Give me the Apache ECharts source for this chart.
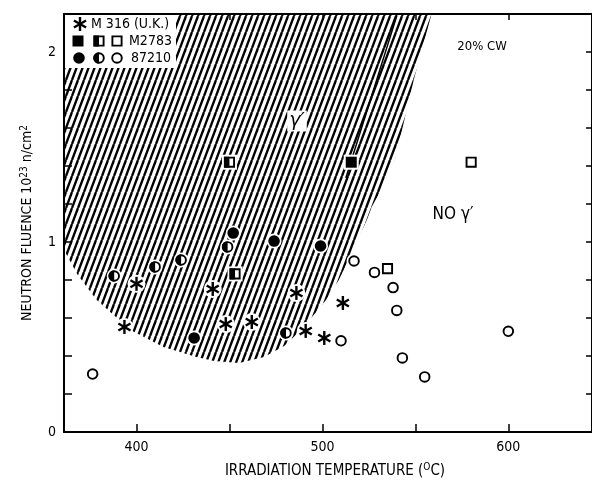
<!DOCTYPE html>
<html><head><meta charset="utf-8">
<script src="https://cdn.jsdelivr.net/npm/echarts@6/dist/echarts.min.js"></script>
<style>html,body{margin:0;padding:0;background:#fff}#c{width:592px;height:485px}</style>
</head><body><div id="c"></div>
<script>
const FONT = '"DejaVu Sans Condensed","Liberation Sans Narrow","DejaVu Sans",sans-serif';

// ---- axis ticks ----
const xTickLabels = [400, 500, 600];
const xTicks = [400, 450, 500, 550, 600];
const yTickLabels = [0, 1, 2];
const yTicks = [0, 0.2, 0.4, 0.6, 0.8, 1.0, 1.2, 1.4, 1.6, 1.8, 2.0, 2.2];

// ---- M316 (U.K.) asterisks ----
const m316Temp    = [393.5, 400, 441, 448, 462, 486, 491, 501, 511];
const m316Fluence = [0.553, 0.78, 0.753, 0.568, 0.579, 0.732, 0.532, 0.495, 0.679];

// ---- M2783 squares ----
const m2783FullTemp = [515.5];
const m2783FullFluence = [1.42];
const m2783HalfTemp = [450, 453];
const m2783HalfFluence = [1.42, 0.832];
const m2783OpenTemp = [535, 580];
const m2783OpenFluence = [0.86, 1.42];

// ---- 87210 circles ----
const h87FullTemp = [452, 474, 499, 431];
const h87FullFluence = [1.047, 1.005, 0.979, 0.495];
const h87HalfTemp = [388, 410, 424, 449, 480.4];
const h87HalfFluence = [0.821, 0.869, 0.905, 0.974, 0.521];
const h87OpenTemp = [376.4, 517, 528, 538, 540, 543, 555, 510, 600];
const h87OpenFluence = [0.305, 0.90, 0.84, 0.76, 0.64, 0.39, 0.29, 0.48, 0.53];

// ---- gamma-prime region boundary (hatched) ----
const hatchTemp = [361, 558.7, 549.1, 539.4, 533.0, 526.5, 523.9, 515.8, 508.8, 501.9, 494.4, 487.4, 479.4, 468.6, 455.2, 441.8, 432.2, 414.5, 396.8, 378.6, 368.4, 361];
const hatchFluence = [2.2, 2.2, 1.853, 1.447, 1.300, 1.184, 1.116, 0.942, 0.800, 0.695, 0.605, 0.526, 0.453, 0.395, 0.363, 0.374, 0.395, 0.447, 0.537, 0.695, 0.826, 0.958];
const edgeTemp = [540, 512.6];
const edgeFluence = [2.19, 1.337];

// hatch pattern: "/" lines, horizontal period 6px, slope 16/6
function makePattern() {
  const W = 6, H = 16;
  const c = document.createElement('canvas');
  c.width = W; c.height = H;
  const g = c.getContext('2d');
  g.strokeStyle = '#000';
  g.lineWidth = 2.3;
  for (let x0 = -W; x0 <= W; x0 += W) {
    g.beginPath();
    g.moveTo(x0, H);
    g.lineTo(x0 + W, 0);
    g.stroke();
  }
  return { image: c, repeat: 'repeat' };
}
const pattern = makePattern();

function asteriskChildren(x, y, r, lw) {
  const ch = [{ type: 'circle', shape: { cx: x, cy: y, r: r + 2 }, style: { fill: '#fff' } }];
  [90, 30, 150].forEach(a => {
    const rad = a * Math.PI / 180;
    const dx = Math.cos(rad) * r, dy = Math.sin(rad) * r;
    ch.push({ type: 'line', shape: { x1: x - dx, y1: y - dy, x2: x + dx, y2: y + dy },
      style: { stroke: '#000', lineWidth: lw } });
  });
  return ch;
}

function markerChildren(x, y, shape, fill) {
  const ch = [];
  if (shape === 'asterisk') return asteriskChildren(x, y, 7, 2.4);
  if (shape === 'circle') {
    ch.push({ type: 'circle', shape: { cx: x, cy: y, r: 7.5 }, style: { fill: '#fff' } });
    if (fill === 'full') {
      ch.push({ type: 'circle', shape: { cx: x, cy: y, r: 5.8 }, style: { fill: '#000' } });
    } else {
      ch.push({ type: 'circle', shape: { cx: x, cy: y, r: 4.8 }, style: { fill: '#fff', stroke: '#000', lineWidth: 1.9 } });
      if (fill === 'half') {
        ch.push({ type: 'sector', shape: { cx: x, cy: y, r: 5.75, r0: 0, startAngle: Math.PI / 2, endAngle: Math.PI * 1.5, clockwise: true }, style: { fill: '#000' } });
      }
    }
  } else {
    ch.push({ type: 'rect', shape: { x: x - 7.5, y: y - 7.5, width: 15, height: 15 }, style: { fill: '#fff' } });
    if (fill === 'full') {
      ch.push({ type: 'rect', shape: { x: x - 5.5, y: y - 5.5, width: 11, height: 11 }, style: { fill: '#000' } });
    } else {
      ch.push({ type: 'rect', shape: { x: x - 4.6, y: y - 4.6, width: 9.2, height: 9.2 }, style: { fill: '#fff', stroke: '#000', lineWidth: 1.9 } });
      if (fill === 'half') {
        ch.push({ type: 'rect', shape: { x: x - 5.5, y: y - 5.5, width: 5.5, height: 11 }, style: { fill: '#000' } });
      }
    }
  }
  return ch;
}

function markerSeries(name, temps, fls, shape, fill) {
  return {
    type: 'custom', name: name, coordinateSystem: 'cartesian2d',
    data: temps.map((t, i) => [t, fls[i]]),
    encode: { x: 0, y: 1 },
    z: 5,
    renderItem: function (params, api) {
      const p = api.coord([api.value(0), api.value(1)]);
      return { type: 'group', children: markerChildren(p[0], p[1], shape, fill) };
    }
  };
}

function legendKey(children) {
  return children.map(c => Object.assign({ z: 102 }, c));
}

const chart = echarts.init(document.getElementById('c'), null, { renderer: 'canvas' });

const axisLineStyle = { color: '#000', width: 2 };
const tickStyle = { color: '#000', width: 1.5 };

const legendGraphics = [
  { type: 'rect', z: 100, shape: { x: 65, y: 15, width: 111, height: 53 }, style: { fill: '#fff' } },
  { type: 'text', z: 102, x: 91, y: 24, style: { text: 'M 316 (U.K.)', font: '14px ' + FONT, fill: '#000', verticalAlign: 'middle' } },
  { type: 'text', z: 102, x: 129, y: 41, style: { text: 'M2783', font: '14px ' + FONT, fill: '#000', verticalAlign: 'middle' } },
  { type: 'text', z: 102, x: 131, y: 58, style: { text: '87210', font: '14px ' + FONT, fill: '#000', verticalAlign: 'middle' } }
].concat(
  legendKey(asteriskChildren(80, 24, 7, 2.4).slice(1)),
  legendKey(markerChildren(78, 41, 'square', 'full').slice(1)),
  legendKey(markerChildren(99, 41, 'square', 'half').slice(1)),
  legendKey(markerChildren(117, 41, 'square', 'open').slice(1)),
  legendKey(markerChildren(79, 58, 'circle', 'full').slice(1)),
  legendKey(markerChildren(99, 58, 'circle', 'half').slice(1)),
  legendKey(markerChildren(117, 58, 'circle', 'open').slice(1))
);

const option = {
  animation: false,
  backgroundColor: '#fff',
  grid: { left: 64, top: 14, width: 530, height: 418, containLabel: false },
  xAxis: [{
    type: 'value', min: 361, max: 645, position: 'bottom',
    axisLine: { onZero: false, lineStyle: axisLineStyle },
    axisTick: { inside: true, length: 8, customValues: xTicks, lineStyle: tickStyle },
    axisLabel: { customValues: xTickLabels, color: '#000', fontSize: 14, margin: 8, fontFamily: FONT },
    splitLine: { show: false },
    name: '{b|IRRADIATION TEMPERATURE (}{s|O}{b|C)}',
    nameLocation: 'middle', nameGap: 30,
    nameTextStyle: {
      padding: [0, 0, 0, 14],
      rich: {
        b: { fontSize: 15, color: '#000', fontFamily: FONT, lineHeight: 18 },
        s: { fontSize: 10, color: '#000', fontFamily: FONT, lineHeight: 10, verticalAlign: 'top' }
      }
    }
  }, {
    type: 'value', min: 361, max: 645, position: 'top',
    axisLine: { onZero: false, lineStyle: axisLineStyle },
    axisTick: { inside: true, length: 6, customValues: xTicks, lineStyle: tickStyle },
    axisLabel: { show: false },
    splitLine: { show: false }
  }],
  yAxis: [{
    type: 'value', min: 0, max: 2.2, position: 'left',
    axisLine: { onZero: false, lineStyle: axisLineStyle },
    axisTick: { inside: true, length: 8, customValues: yTicks, lineStyle: tickStyle },
    axisLabel: { customValues: yTickLabels, color: '#000', fontSize: 14, margin: 8, fontFamily: FONT },
    splitLine: { show: false },
    name: '{b|NEUTRON FLUENCE 10}{s|23}{b| n/cm}{s|2}',
    nameLocation: 'middle', nameGap: 28, nameRotate: 90,
    nameTextStyle: {
      rich: {
        b: { fontSize: 14, color: '#000', fontFamily: FONT, lineHeight: 17 },
        s: { fontSize: 10, color: '#000', fontFamily: FONT, lineHeight: 10, verticalAlign: 'top' }
      }
    }
  }, {
    type: 'value', min: 0, max: 2.2, position: 'right',
    axisLine: { onZero: false, lineStyle: axisLineStyle },
    axisTick: { inside: true, length: 6, customValues: yTicks, lineStyle: tickStyle },
    axisLabel: { show: false },
    splitLine: { show: false }
  }],
  series: [
    {
      type: 'custom', name: 'gamma prime region', coordinateSystem: 'cartesian2d',
      data: [[hatchTemp[0], hatchFluence[0]]],
      encode: { x: 0, y: 1 },
      clip: true, z: 1, silent: true,
      renderItem: function (params, api) {
        const pts = hatchTemp.map((t, i) => api.coord([t, hatchFluence[i]]));
        return { type: 'polygon', shape: { points: pts }, style: { fill: pattern } };
      }
    },
    {
      type: 'line', name: 'edge', data: edgeTemp.map((t, i) => [t, edgeFluence[i]]),
      symbol: 'none', z: 2, silent: true,
      lineStyle: { color: '#000', width: 1.5 }
    },
    markerSeries('M316', m316Temp, m316Fluence, 'asterisk', 'full'),
    markerSeries('M2783 full', m2783FullTemp, m2783FullFluence, 'square', 'full'),
    markerSeries('M2783 half', m2783HalfTemp, m2783HalfFluence, 'square', 'half'),
    markerSeries('M2783 open', m2783OpenTemp, m2783OpenFluence, 'square', 'open'),
    markerSeries('87210 full', h87FullTemp, h87FullFluence, 'circle', 'full'),
    markerSeries('87210 half', h87HalfTemp, h87HalfFluence, 'circle', 'half'),
    markerSeries('87210 open', h87OpenTemp, h87OpenFluence, 'circle', 'open')
  ],
  graphic: legendGraphics.concat([
    { type: 'text', z: 101, x: 297, y: 121, style: { text: 'γ′', font: 'oblique 19px "DejaVu Sans",sans-serif', fill: '#000', align: 'center', verticalAlign: 'middle', backgroundColor: '#fff', padding: [1, 2] } },
    { type: 'text', z: 101, x: 453, y: 215, style: { text: 'NO γ′', font: '17px ' + FONT, fill: '#000', align: 'center', verticalAlign: 'middle' } },
    { type: 'text', z: 101, x: 482, y: 47, style: { text: '20% CW', font: '13px ' + FONT, fill: '#000', align: 'center', verticalAlign: 'middle' } }
  ])
};
chart.setOption(option);
</script>
</body></html>
